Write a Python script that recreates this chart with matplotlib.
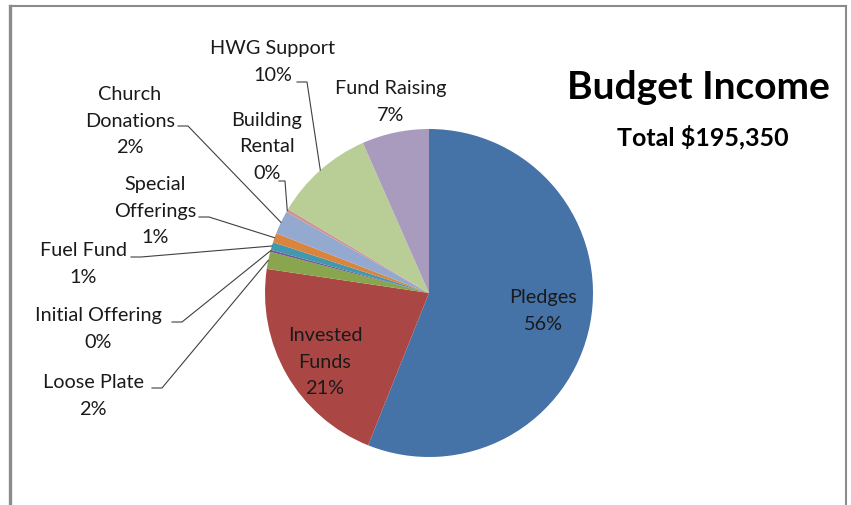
import numpy as np
import matplotlib.pyplot as plt
from matplotlib.lines import Line2D

# slices in order, clockwise from 12 o'clock (dollars, total $195,350)
categories = ['Pledges', 'Invested\nFunds', 'Loose Plate', 'Initial Offering', 'Fuel Fund',
              'Special\nOfferings', 'Church\nDonations', 'Building\nRental', 'HWG Support', 'Fund Raising']
amounts = [109500, 41600, 3300, 400, 1500, 1800, 4500, 600, 19250, 12900]
colors = ['#4572A7', '#AA4643', '#89A54E', '#71588F', '#4198AF',
          '#DB843D', '#93A9CF', '#D19392', '#B9CD96', '#A99BBD']
title = 'Budget Income'
subtitle = 'Total $195,350'

W, H = 851, 506
plt.rcParams['font.family'] = ['Lato', 'DejaVu Sans']

fig = plt.figure(figsize=(W / 100, H / 100), dpi=100)
ax = fig.add_axes([0, 0, 1, 1])

def px(x, y):
    # pixel coords (origin top-left) -> data coords
    return x, H - y

cx, cy = px(429, 294)
r = 164
ax.pie(amounts, colors=colors, startangle=90, counterclock=False,
       center=(cx, cy), radius=r, wedgeprops=dict(linewidth=0))
ax.set_xlim(0, W)
ax.set_ylim(0, H)
ax.set_aspect('equal')
ax.axis('off')

vals = np.array(amounts, dtype=float)
pct = vals / vals.sum() * 100
mids = (np.cumsum(vals) - vals / 2) / vals.sum() * 2 * np.pi

# label layout: text centre (px), leader start (px) or None
label_pos = [(543, 311), (325, 362), (93, 396), (98, 329), (83, 264),
             (155, 211), (130, 121), (267, 147), (273, 62), (391, 102)]
leader_start = [None, None, (152, 389), (172, 323), (131, 258),
                (199, 218), (178, 127), (279, 182), (297, 83), None]

for i, cat in enumerate(categories):
    txt = f"{cat}\n{round(pct[i]):.0f}%"
    x, y = px(*label_pos[i])
    ax.text(x, y, txt, ha='center', va='center', fontsize=14.3,
            linespacing=1.68, color='#1a1a1a')
    if leader_start[i] is not None:
        sx, sy = px(*leader_start[i])
        ex = cx + r * np.sin(mids[i])
        ey = cy + r * np.cos(mids[i])
        if i == 7:
            pts_x, pts_y = [sx, sx + 6, ex], [sy, sy, ey]
        else:
            pts_x, pts_y = [sx, sx + 10, ex], [sy, sy, ey]
        ax.plot(pts_x, pts_y, color='#404040', lw=0.8)

tx, ty = px(698, 87)
ax.text(tx, ty, title, ha='center', va='center', fontsize=28, fontweight='bold')
tx, ty = px(703, 137)
ax.text(tx, ty, subtitle, ha='center', va='center', fontsize=18, fontweight='bold')

# chart frame
frame = '#8c8c8c'
fig.add_artist(Line2D([10 / W, 10 / W], [0, 1 - 7 / H], transform=fig.transFigure, color=frame, lw=2.4))
fig.add_artist(Line2D([10 / W, 846 / W], [1 - 7 / H, 1 - 7 / H], transform=fig.transFigure, color=frame, lw=1.5))
fig.add_artist(Line2D([846 / W, 846 / W], [0, 1 - 7 / H], transform=fig.transFigure, color=frame, lw=1.5))

fig.savefig('out.png', dpi=100)
